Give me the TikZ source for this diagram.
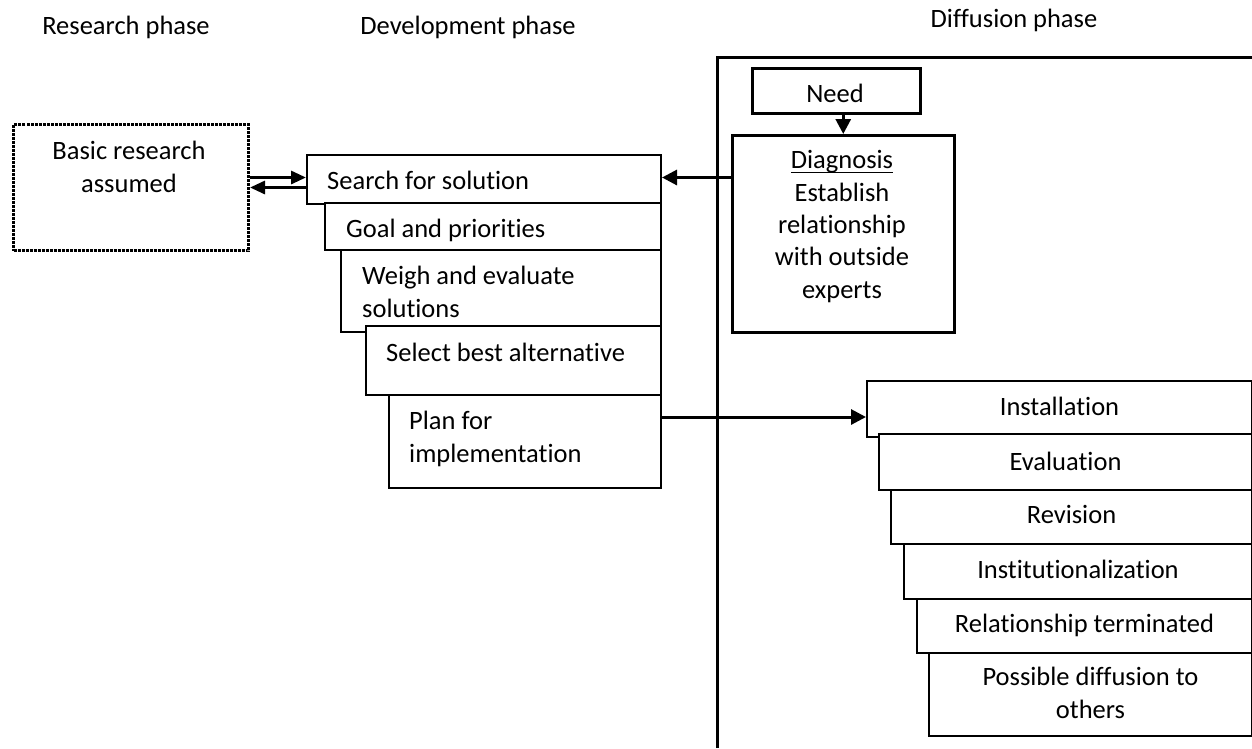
\documentclass[tikz,border=0pt]{standalone}
\usepackage{fontspec}
\setmainfont{Carlito}[Ligatures={NoCommon}]
\usetikzlibrary{arrows.meta}
% underline that sits just under the baseline
\newcommand\baseul[1]{\setbox0\hbox{#1}\rlap{\rule[-4pt]{\wd0}{1.2pt}}\box0}
\begin{document}
\begin{tikzpicture}[x=1pt,y=-1pt,
  lbl/.style={inner sep=0pt, font=\fontsize{26.5}{32.3}\selectfont},
  stagebox/.style={draw, line width=2pt, fill=white, inner sep=0pt, anchor=north west},
  dotbox/.style={draw, line width=3pt, dash pattern=on 3pt off 1pt, inner sep=0pt, anchor=north west},
  frameline/.style={line width=3pt},
  bigarrow/.style={line width=3pt, -{Triangle[length=15pt,width=15pt]}},
  midarrow/.style={line width=3pt, -{Triangle[length=15pt,width=13pt]}},
]
\useasboundingbox (0,0) rectangle (1252,748);

% phase headings
\node[lbl, anchor=base] (hres) at (126,34) {Research phase};
\node[lbl, anchor=base] (hdev) at (468,34) {Development phase};
\node[lbl, anchor=base] (hdif) at (1014,27) {Diffusion phase};

% diffusion frame
\coordinate (fbot) at (717,748);
\coordinate (fcorner) at (717,57);
\coordinate (fright) at (1252,57);
\draw[frameline] (fbot) -- (fcorner) -- (fright);

% research phase (multi-line labels are placed by the baseline of their last line)
\node[dotbox, minimum width=235pt, minimum height=126pt] (basic) at (12,123) {};
\node[lbl, anchor=base, align=center] (tbasic) at (129,192) {Basic research\\assumed};

% development phase stack
\node[stagebox, minimum width=354pt, minimum height=49pt] (search) at (306,154) {};
\node[stagebox, minimum width=336pt, minimum height=47pt] (goal) at (324,202) {};
\node[stagebox, minimum width=320pt, minimum height=82pt] (weigh) at (340,249) {};
\node[stagebox, minimum width=295pt, minimum height=69pt] (select) at (365,325) {};
\node[stagebox, minimum width=272pt, minimum height=93pt] (plan) at (388,394) {};

\node[lbl, anchor=base west] (tsearch) at (327,189) {Search for solution};
\node[lbl, anchor=base west] (tgoal) at (346,237) {Goal and priorities};
\node[lbl, anchor=base west, align=left] (tweigh) at (362,317) {Weigh and evaluate\\solutions};
\node[lbl, anchor=base west] (tselect) at (386,361) {Select best alternative};
\node[lbl, anchor=base west, align=left] (tplan) at (409,462) {Plan for\\implementation};

% diffusion phase
\node[stagebox, line width=2.5pt, minimum width=168pt, minimum height=45pt] (need) at (751,67) {};
\node[lbl, anchor=base] (tneed) at (835,102) {Need};
\node[stagebox, line width=2.5pt, minimum width=222pt, minimum height=197pt] (diag) at (731,134) {};
\node[lbl, anchor=base, align=center] (tdiag) at (842,298) {\baseul{Diagnosis}\\Establish\\relationship\\with outside\\experts};

\node[stagebox, minimum width=385pt, minimum height=56pt] (inst) at (866,380) {};
\node[stagebox, minimum width=373pt, minimum height=56pt] (eval) at (878,433) {};
\node[stagebox, minimum width=361pt, minimum height=54pt] (rev) at (890,489) {};
\node[stagebox, minimum width=348pt, minimum height=55pt] (instit) at (903,543) {};
\node[stagebox, minimum width=335pt, minimum height=54pt] (relterm) at (916,598) {};
\node[stagebox, minimum width=323pt, minimum height=83pt] (poss) at (928,652) {};

\node[lbl, anchor=base] (tinst) at (inst.center |- 0,415) {Installation};
\node[lbl, anchor=base] (teval) at (eval.center |- 0,470) {Evaluation};
\node[lbl, anchor=base] (trev) at (rev.center |- 0,523) {Revision};
\node[lbl, anchor=base] (tinstit) at (instit.center |- 0,578) {Institutionalization};
\node[lbl, anchor=base] (trelterm) at (relterm.center |- 0,632) {Relationship terminated};
\node[lbl, anchor=base, align=center] (tposs) at (poss.center |- 0,718) {Possible diffusion to\\others};

% connectors
\draw[midarrow] ([yshift=10pt]basic.east) -- ([yshift=10pt]basic.east -| search.west);
\draw[midarrow] (basic.east -| search.west) -- (basic.east);
\draw[bigarrow] ([yshift=2pt]diag.west |- search.east) -- ([yshift=2pt]search.east);
\draw[bigarrow] (diag.north |- need.south) -- (diag.north);
\draw[bigarrow] ([yshift=-23pt]plan.north east) -- ([yshift=-37pt]inst.north west);
\end{tikzpicture}
\end{document}
